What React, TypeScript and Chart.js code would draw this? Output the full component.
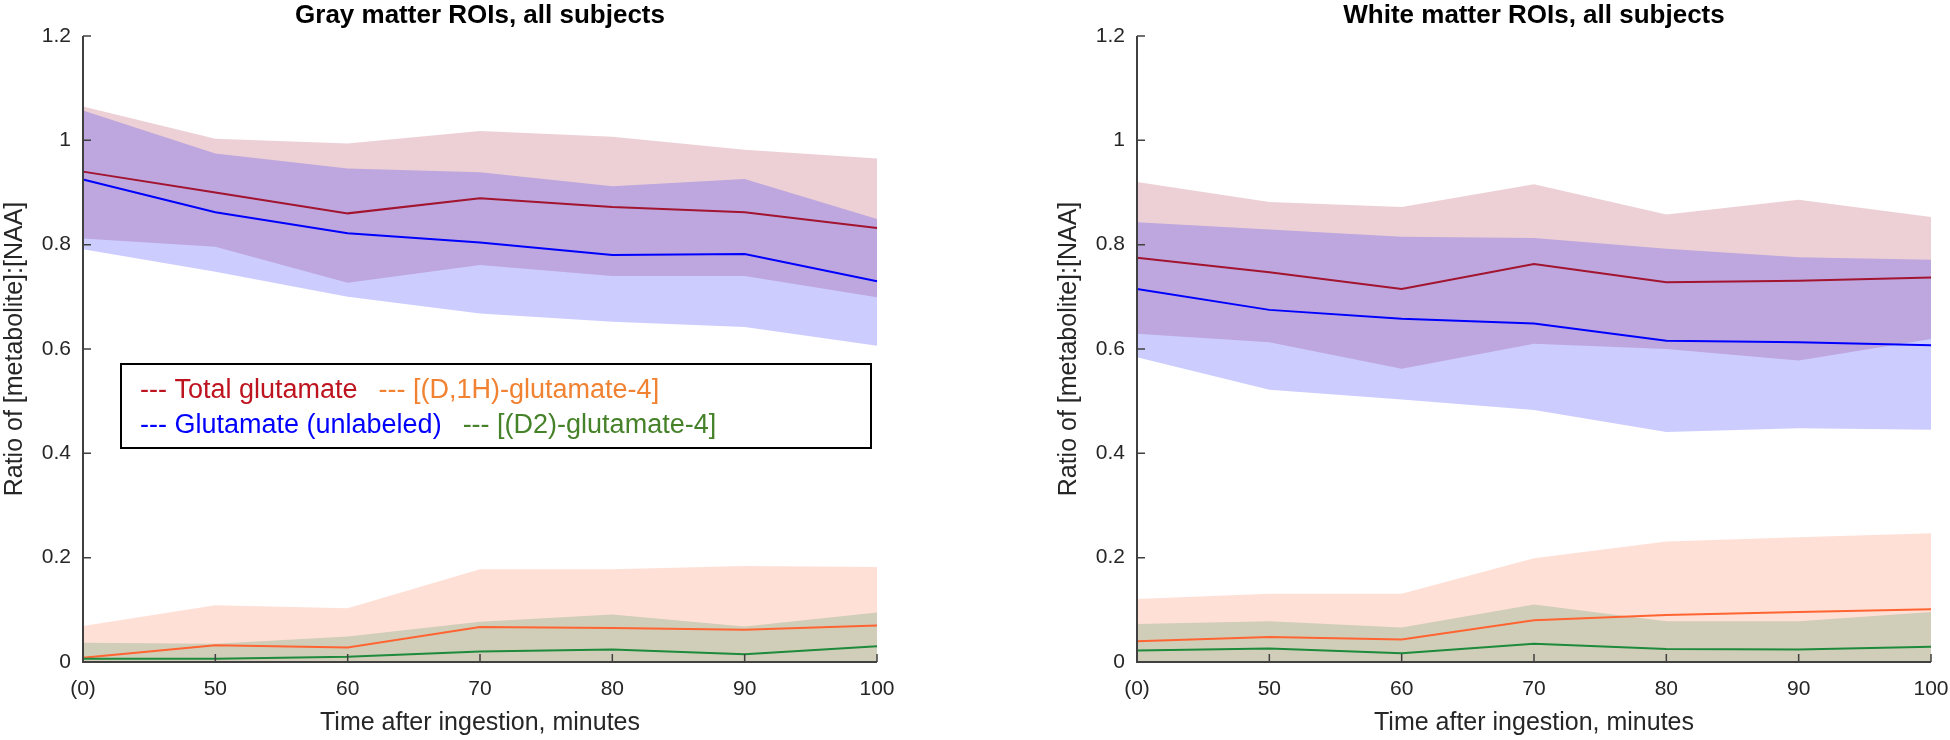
import React, { useEffect, useRef } from "react";
import { Chart, registerables } from "chart.js";

Chart.register(...registerables);

// ---------- data ----------
const timeLabels = ["(0)", "50", "60", "70", "80", "90", "100"];
const yMin = 0;
const yMax = 1.2;
const yStep = 0.2;

const panelTitles = ["Gray matter ROIs, all subjects", "White matter ROIs, all subjects"];
const xAxisTitle = "Time after ingestion, minutes";
const yAxisTitle = "Ratio of [metabolite]:[NAA]";
const seriesNames = ["Total glutamate", "[(D,1H)-glutamate-4]", "Glutamate (unlabeled)", "[(D2)-glutamate-4]"];

// Gray matter
const gmTotalMean = [0.940, 0.900, 0.860, 0.889, 0.872, 0.862, 0.832];
const gmTotalUpper = [1.065, 1.003, 0.994, 1.018, 1.007, 0.982, 0.965];
const gmTotalLower = [0.812, 0.796, 0.727, 0.761, 0.740, 0.740, 0.699];
const gmGluMean = [0.925, 0.862, 0.822, 0.804, 0.780, 0.782, 0.730];
const gmGluUpper = [1.057, 0.975, 0.946, 0.939, 0.912, 0.926, 0.849];
const gmGluLower = [0.791, 0.748, 0.700, 0.668, 0.652, 0.642, 0.606];
const gmD1HMean = [0.008, 0.032, 0.028, 0.067, 0.065, 0.062, 0.070];
const gmD1HUpper = [0.069, 0.109, 0.103, 0.178, 0.178, 0.184, 0.182];
const gmD1HLower = [0, 0, 0, 0, 0, 0, 0];
const gmD2Mean = [0.006, 0.006, 0.010, 0.020, 0.024, 0.015, 0.030];
const gmD2Upper = [0.037, 0.035, 0.049, 0.077, 0.091, 0.068, 0.095];
const gmD2Lower = [0, 0, 0, 0, 0, 0, 0];

// White matter
const wmTotalMean = [0.775, 0.747, 0.715, 0.763, 0.728, 0.731, 0.737];
const wmTotalUpper = [0.920, 0.882, 0.872, 0.916, 0.858, 0.886, 0.853];
const wmTotalLower = [0.629, 0.613, 0.562, 0.610, 0.600, 0.578, 0.619];
const wmGluMean = [0.715, 0.675, 0.658, 0.649, 0.616, 0.613, 0.607];
const wmGluUpper = [0.843, 0.829, 0.815, 0.813, 0.792, 0.776, 0.771];
const wmGluLower = [0.584, 0.522, 0.503, 0.483, 0.441, 0.448, 0.445];
const wmD1HMean = [0.040, 0.048, 0.043, 0.080, 0.090, 0.096, 0.101];
const wmD1HUpper = [0.121, 0.131, 0.131, 0.199, 0.231, 0.239, 0.247];
const wmD1HLower = [0, 0, 0, 0, 0, 0, 0];
const wmD2Mean = [0.022, 0.026, 0.017, 0.035, 0.025, 0.024, 0.029];
const wmD2Upper = [0.073, 0.078, 0.066, 0.110, 0.078, 0.078, 0.096];
const wmD2Lower = [0, 0, 0, 0, 0, 0, 0];

// ---------- styles ----------
const FONT = '"Liberation Sans", Arial, Helvetica, sans-serif';
const AXIS_COLOR = "#404040";
const TEXT_COLOR = "#262626";
const RED_LINE = "#a2142f";
const RED_FILL = "rgba(162,20,47,0.2)";
const BLUE_LINE = "#0000ff";
const BLUE_FILL = "rgba(0,0,255,0.2)";
const ORANGE_LINE = "#ff6432";
const ORANGE_FILL = "rgba(255,100,50,0.2)";
const GREEN_LINE = "#1e8a3c";
const GREEN_FILL = "rgba(20,130,60,0.2)";
const LEGEND_TEXT = ["#be1420", "#f08232", "#0000ff", "#46822a"];

type Panel = {
  title: string;
  totalMean: number[]; totalUpper: number[]; totalLower: number[];
  gluMean: number[]; gluUpper: number[]; gluLower: number[];
  d1hMean: number[]; d1hUpper: number[]; d1hLower: number[];
  d2Mean: number[]; d2Upper: number[]; d2Lower: number[];
  legend: boolean;
  padLeft: number;
  padRight: number;
};

const panels: Panel[] = [
  {
    title: panelTitles[0],
    totalMean: gmTotalMean, totalUpper: gmTotalUpper, totalLower: gmTotalLower,
    gluMean: gmGluMean, gluUpper: gmGluUpper, gluLower: gmGluLower,
    d1hMean: gmD1HMean, d1hUpper: gmD1HUpper, d1hLower: gmD1HLower,
    d2Mean: gmD2Mean, d2Upper: gmD2Upper, d2Lower: gmD2Lower,
    legend: true, padLeft: 0, padRight: 98,
  },
  {
    title: panelTitles[1],
    totalMean: wmTotalMean, totalUpper: wmTotalUpper, totalLower: wmTotalLower,
    gluMean: wmGluMean, gluUpper: wmGluUpper, gluLower: wmGluLower,
    d1hMean: wmD1HMean, d1hUpper: wmD1HUpper, d1hLower: wmD1HLower,
    d2Mean: wmD2Mean, d2Upper: wmD2Upper, d2Lower: wmD2Lower,
    legend: false, padLeft: 79, padRight: 19,
  },
];

const CW = 975;
const CH = 740;

function lineDs(label: string, data: number[], color: string) {
  return { label, data, borderColor: color, backgroundColor: color, borderWidth: 2, pointRadius: 0, pointHoverRadius: 0, fill: false, tension: 0 };
}
function upperDs(label: string, data: number[], fillColor: string) {
  return { label, data, borderColor: "rgba(0,0,0,0)", borderWidth: 0, pointRadius: 0, pointHoverRadius: 0, fill: "+1", backgroundColor: fillColor, tension: 0 };
}
function lowerDs(label: string, data: number[]) {
  return { label, data, borderColor: "rgba(0,0,0,0)", borderWidth: 0, pointRadius: 0, pointHoverRadius: 0, fill: false, backgroundColor: "rgba(0,0,0,0)", tension: 0 };
}

function decorPlugin(p: Panel) {
  return {
    id: "decor",
    afterDatasetsDraw(chart: any) {
      const { ctx, chartArea: a, scales } = chart;
      const xs = scales.x;
      const ys = scales.y;
      ctx.save();
      ctx.strokeStyle = AXIS_COLOR;
      ctx.lineWidth = 1.5;
      ctx.beginPath();
      xs.ticks.forEach((_t: any, i: number) => {
        const px = xs.getPixelForTick(i);
        ctx.moveTo(px, a.bottom);
        ctx.lineTo(px, a.bottom - 8);
      });
      ys.ticks.forEach((_t: any, i: number) => {
        const py = ys.getPixelForTick(i);
        ctx.moveTo(a.left, py);
        ctx.lineTo(a.left + 8, py);
      });
      ctx.stroke();
      ctx.lineWidth = 2;
      ctx.beginPath();
      ctx.moveTo(a.left, a.top);
      ctx.lineTo(a.left, a.bottom);
      ctx.lineTo(a.right, a.bottom);
      ctx.stroke();
      ctx.restore();
    },
    afterDraw(chart: any) {
      const { ctx, chartArea: a } = chart;
      ctx.save();
      // title
      ctx.fillStyle = "#000000";
      ctx.font = `bold 26px ${FONT}`;
      ctx.textAlign = "center";
      ctx.textBaseline = "alphabetic";
      ctx.fillText(p.title, (a.left + a.right) / 2, 23);
      // legend
      if (p.legend) {
        const bx = 121, by = 364, bw = 750, bh = 84;
        ctx.fillStyle = "#ffffff";
        ctx.fillRect(bx, by, bw, bh);
        ctx.strokeStyle = "#000000";
        ctx.lineWidth = 2;
        ctx.strokeRect(bx, by, bw, bh);
        ctx.font = `27px ${FONT}`;
        ctx.textAlign = "left";
        const rows = [
          [0, 1, 398],
          [2, 3, 433],
        ];
        rows.forEach(([i1, i2, y]) => {
          const t1 = "--- " + seriesNames[i1];
          const t2 = "--- " + seriesNames[i2];
          ctx.fillStyle = LEGEND_TEXT[i1];
          ctx.fillText(t1, 140, y);
          const w1 = ctx.measureText(t1).width;
          ctx.fillStyle = LEGEND_TEXT[i2];
          ctx.fillText(t2, 140 + w1 + 21, y);
        });
      }
      ctx.restore();
    },
  };
}

function formatY(v: number) {
  return Number(v).toFixed(1).replace(/\.0$/, "");
}

function PanelChart({ p, left }: { p: Panel; left: number }) {
  const ref = useRef<HTMLCanvasElement | null>(null);
  useEffect(() => {
    if (!ref.current) return;
    const chart = new Chart(ref.current, {
      type: "line",
      data: {
        labels: timeLabels,
        datasets: [
          lineDs(seriesNames[2], p.gluMean, BLUE_LINE),
          lineDs(seriesNames[0], p.totalMean, RED_LINE),
          lineDs(seriesNames[3], p.d2Mean, GREEN_LINE),
          lineDs(seriesNames[1], p.d1hMean, ORANGE_LINE),
          upperDs("glu upper", p.gluUpper, BLUE_FILL),
          lowerDs("glu lower", p.gluLower),
          upperDs("d2 upper", p.d2Upper, GREEN_FILL),
          lowerDs("d2 lower", p.d2Lower),
          upperDs("total upper", p.totalUpper, RED_FILL),
          lowerDs("total lower", p.totalLower),
          upperDs("d1h upper", p.d1hUpper, ORANGE_FILL),
          lowerDs("d1h lower", p.d1hLower),
        ] as any,
      },
      options: {
        responsive: false,
        animation: false,
        devicePixelRatio: 1,
        events: [],
        layout: { padding: { left: p.padLeft, right: p.padRight, top: 36, bottom: 0 } },
        plugins: {
          legend: { display: false },
          title: { display: false },
          tooltip: { enabled: false },
          filler: { drawTime: "beforeDatasetsDraw", propagate: false },
        } as any,
        scales: {
          x: {
            type: "category",
            offset: false,
            grid: { display: false, drawTicks: false },
            border: { display: false },
            ticks: { color: TEXT_COLOR, font: { family: FONT, size: 21 }, padding: 15, maxRotation: 0, autoSkip: false },
            title: { display: true, text: xAxisTitle, color: TEXT_COLOR, font: { family: FONT, size: 25 }, padding: { top: 0, bottom: 1.5 } },
            afterFit: (s: any) => { s.height = 78; s.paddingLeft = 0; s.paddingRight = 0; },
          },
          y: {
            type: "linear",
            min: yMin,
            max: yMax,
            grid: { display: false, drawTicks: false },
            border: { display: false },
            ticks: { stepSize: yStep, color: TEXT_COLOR, font: { family: FONT, size: 21 }, padding: 12, callback: (v: any) => formatY(v) },
            title: { display: true, text: yAxisTitle, color: TEXT_COLOR, font: { family: FONT, size: 25 }, padding: { top: 0, bottom: 0 } },
            afterFit: (s: any) => { s.width = 83; s.paddingTop = 0; s.paddingBottom = 0; },
          },
        } as any,
      },
      plugins: [decorPlugin(p)],
    });
    return () => chart.destroy();
  }, [p]);
  return (
    <canvas
      ref={ref}
      width={CW}
      height={CH}
      style={{ position: "absolute", left, top: 0, width: CW, height: CH }}
    />
  );
}

export default function App() {
  return (
    <div style={{ position: "absolute", left: 0, top: 0, width: 1950, height: 740, background: "#ffffff" }}>
      <PanelChart p={panels[0]} left={0} />
      <PanelChart p={panels[1]} left={CW} />
    </div>
  );
}
